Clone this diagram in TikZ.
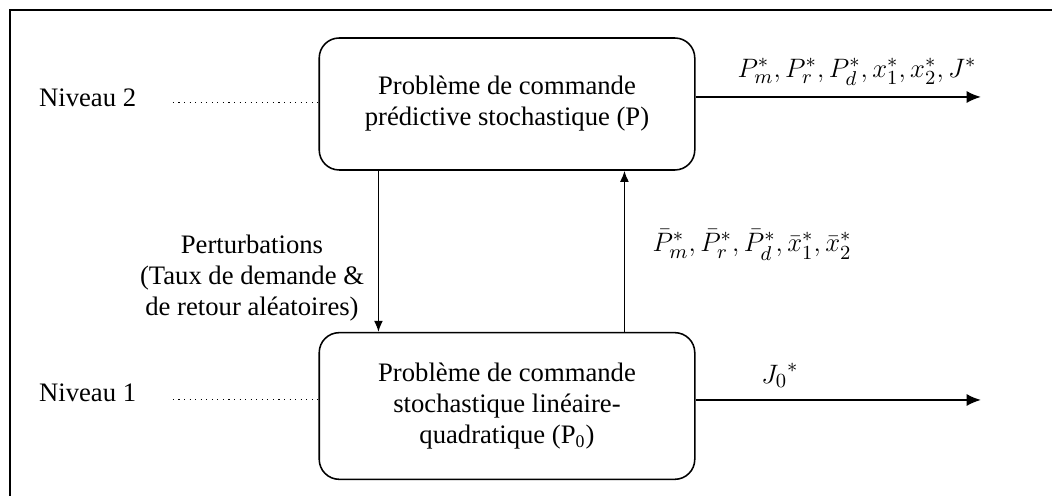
\documentclass[tikz,border=0pt]{standalone}
\usepackage{fontspec}
\setmainfont{Liberation Serif}
\usepackage{amsmath}
\usetikzlibrary{positioning}
\usetikzlibrary{arrows.meta}

\begin{document}
\begin{tikzpicture}[
    x=0.45pt, y=-0.45pt,
    box/.style={rectangle, draw, line width=0.7pt, rounded corners=9pt, minimum width=169pt, align=center, font=\fontsize{12}{14}\selectfont},
    txt/.style={align=center, font=\fontsize{12}{14}\selectfont},
    res/.style={font=\fontsize{13}{15}\selectfont},
    sortie/.style={-{Latex[length=6.5pt,width=5.5pt]}, line width=0.9pt},
    lien/.style={-{Latex[length=5pt,width=4pt]}, line width=0.6pt},
    pointille/.style={dotted, line width=0.5pt}
]
    \useasboundingbox (0,0) rectangle (1052,496);
    \clip (0,0) rectangle (1052,496);
    % cadre
    \draw[line width=0.9pt] (10,10) rectangle (1090,530);

    % les deux niveaux
    \node[box, minimum height=59.4pt] (pb) at (507,104) {Problème de commande\\prédictive stochastique (P)};
    \node[box, minimum height=66pt] (pb0) at (507,406) {Problème de commande\\stochastique linéaire-\\quadratique (P\textsubscript{0})};

    \node[txt, anchor=east] (niv2) at (144,98) {Niveau 2};
    \node[txt, anchor=east] (niv1) at (144,393) {Niveau 1};

    \draw[pointille, shorten <=13pt] ([yshift=-2pt]niv2.east) -- ([yshift=-2pt]niv2.east -| pb.west);
    \draw[pointille, shorten <=13pt] ([yshift=-3pt]niv1.east) -- ([yshift=-3pt]niv1.east -| pb0.west);

    % echanges entre niveaux
    \draw[lien] ([xshift=27pt]pb.south west) -- ([xshift=27pt]pb0.north west);
    \draw[lien] ([xshift=137.7pt]pb0.north west) -- ([xshift=137.7pt]pb.south west);

    \node[txt] (pert) at (252,278) {Perturbations\\(Taux de demande \&\\de retour aléatoires)};
    \node[res] (moy) at (752,245) {$\bar{P}_m^*, \bar{P}_r^*, \bar{P}_d^*, \bar{x}_1^*, \bar{x}_2^*$};

    % sorties
    \coordinate (fin2) at (981,97);
    \coordinate (fin1) at (981,400);
    \draw[sortie] (pb.east |- fin2) -- (fin2);
    \draw[sortie] (pb0.east |- fin1) -- (fin1);

    \node[res] (sol) at (857,72) {$P_m^*, P_r^*, P_d^*, x_1^*, x_2^*, J^*$};
    \node[res] (j0) at (780,375) {${J_0}^*$};
\end{tikzpicture}
\end{document}
